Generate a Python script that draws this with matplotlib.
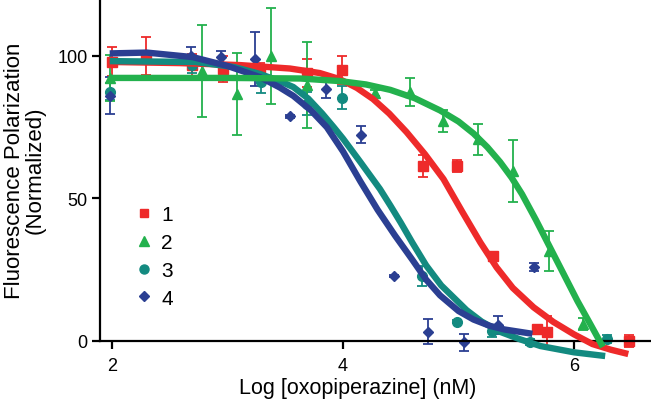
import matplotlib
matplotlib.use("Agg")
import matplotlib.pyplot as plt
from matplotlib.lines import Line2D

plt.rcParams['font.family'] = ['Liberation Sans', 'DejaVu Sans']

# 顏色
c_red = '#EE2A2A'
c_green = '#23B14D'
c_teal = '#138A80'
c_blue = '#2B3F92'

# 數據點 (log 濃度, 正規化 FP, 誤差)
x1 = [2.0, 2.29, 2.69, 2.96, 3.28, 3.69, 3.99, 4.69, 4.99, 5.30, 5.68, 5.77, 6.48]
y1 = [98, 100, 96.8, 95.4, 94.7, 94, 95.1, 61.4, 61.4, 29.8, 4.2, 3.2, 0]
e1 = [5, 6.5, 4, 4.5, 3, 5, 5, 3.9, 2, 1, 1, 5.4, 2]

x2 = [1.98, 2.78, 3.08, 3.38, 3.69, 4.28, 4.58, 4.87, 5.17, 5.47, 5.78, 6.08]
y2 = [92.3, 94.7, 86.7, 100, 89.8, 87, 87.4, 77.2, 70.8, 59.6, 31.6, 6]
e2 = [8, 16, 14.3, 17, 15, 1, 5, 4, 5.4, 11, 7, 2]

x3 = [1.98, 2.69, 3.29, 3.69, 3.99, 4.68, 4.99, 5.29, 5.62, 6.29]
y3 = [87.5, 97, 90.8, 83.2, 85.3, 22.8, 6.7, 3.5, -0.5, 0.7]
e3 = [3, 3, 3.7, 4, 4, 3.5, 0.5, 2, 1, 1.5]

x4 = [1.98, 2.68, 2.94, 3.24, 3.54, 3.85, 4.16, 4.44, 4.74, 5.05, 5.34, 5.65]
y4 = [86, 100, 99.6, 98.9, 78.9, 88.4, 72.3, 22.8, 3.2, -0.4, 5.6, 26]
e4 = [6.5, 3, 2, 9.5, 0.5, 3, 3, 0.5, 4.4, 3, 3, 1.5]

# 擬合曲線
fx1 = [1.99, 2.59, 3.11, 3.54, 3.8, 3.97, 4.12, 4.26, 4.4, 4.55, 4.71, 4.87, 5.03, 5.19, 5.33,
       5.47, 5.65, 5.82, 6.0, 6.16, 6.32, 6.47]
fy1 = [97.9, 97.5, 96.8, 95.6, 94, 91.9, 88.8, 84.9, 79.8, 73.3, 65.5, 56.8, 45.5, 34.5, 25.8,
       18.6, 11.8, 6.7, 2.3, -1.1, -3.1, -4.6]

fx2 = [1.98, 3.0, 3.63, 3.97, 4.2, 4.41, 4.62, 4.84, 5.0, 5.13, 5.25, 5.36, 5.46, 5.55, 5.67,
       5.79, 5.91, 6.03, 6.14, 6.25]
fy2 = [92.3, 92.3, 92.1, 91.2, 90, 88.1, 85.2, 80.9, 77, 72.8, 68, 62.8, 57.3, 51.5, 42.5,
       33, 23.5, 14, 6, -2.1]

fx3 = [1.98, 2.72, 3.06, 3.28, 3.45, 3.57, 3.7, 3.82, 3.92, 4.0, 4.15, 4.32, 4.41, 4.5, 4.6,
       4.72, 4.85, 5.07, 5.2, 5.36, 5.53, 5.71, 6.0, 6.27]
fy3 = [98.2, 97.9, 96.1, 93.7, 91.2, 89.1, 85, 79.8, 75, 71, 62.8, 53.3, 47.5, 41.5, 34.5,
       26.5, 19.5, 10.8, 6.8, 3.2, 0.6, -1.8, -4, -5.3]

fx4 = [1.98, 2.3, 2.70, 3.0, 3.28, 3.45, 3.57, 3.72, 3.86, 4.0, 4.15, 4.3, 4.45, 4.6, 4.72,
       4.84, 5.0, 5.13, 5.27, 5.4, 5.64]
fy4 = [100.9, 101.2, 99.6, 96.5, 92.6, 89, 86, 81, 75, 66.5, 56, 46, 37, 28.5, 21.5,
       16, 10.5, 7.5, 5.3, 4, 2.5]

fig = plt.figure(figsize=(6.51, 4.02), dpi=100)
ax = fig.add_axes([100 / 651, 1 - 363 / 402, 550 / 651, 363 / 402])

series = [
    (x1, y1, e1, fx1, fy1, c_red, 's', 6.5, 3),
    (x3, y3, e3, fx3, fy3, c_teal, 'o', 7, 4),
    (x4, y4, e4, fx4, fy4, c_blue, 'D', 5, 5),
    (x2, y2, e2, fx2, fy2, c_green, '^', 7, 6),
]
for x, y, e, fx, fy, c, m, ms, z in series:
    ax.errorbar(x, y, yerr=e, fmt=m, color=c, ms=ms, mec=c, elinewidth=1.3,
                capsize=3.8, capthick=1.3, zorder=2)
    ax.plot(fx, fy, color=c, lw=4.6, solid_capstyle='butt', solid_joinstyle='round', zorder=z)

ax.set_xlim(1.896, 6.658)
ax.set_ylim(-7.4, 120)
ax.set_xticks([2, 4, 6])
ax.set_yticks([0, 50, 100])

ax.spines['top'].set_visible(False)
ax.spines['right'].set_visible(False)
ax.spines['bottom'].set_position(('data', 0))
ax.spines['left'].set_bounds(0, 120)
for s in ['left', 'bottom']:
    ax.spines[s].set_linewidth(1.6)
ax.tick_params(direction='out', length=6, width=1.6, labelsize=13, pad=3)
ax.tick_params(axis='x', pad=5.5)

ax.set_xlabel("Log [oxopiperazine] (nM)", fontsize=15.5)
ax.xaxis.set_label_coords((358 - 100) / 550, -0.042)
ax.set_ylabel("Fluorescence Polarization\n(Normalized)", fontsize=16, linespacing=1.0)
ax.yaxis.set_label_coords(-0.098, 0.53)

handles = [
    Line2D([], [], ls='none', marker='s', color=c_red, ms=6),
    Line2D([], [], ls='none', marker='^', color=c_green, ms=6.5),
    Line2D([], [], ls='none', marker='o', color=c_teal, ms=6.5),
    Line2D([], [], ls='none', marker='D', color=c_blue, ms=5),
]
ax.legend(handles, ['1', '2', '3', '4'], loc='upper left', frameon=False, fontsize=15,
          bbox_to_anchor=((128 - 100) / 550, 1 - 198 / 363), handlelength=0.7,
          handletextpad=0.5, labelspacing=0.42, borderaxespad=0)

plt.savefig("out.png", dpi=100)
